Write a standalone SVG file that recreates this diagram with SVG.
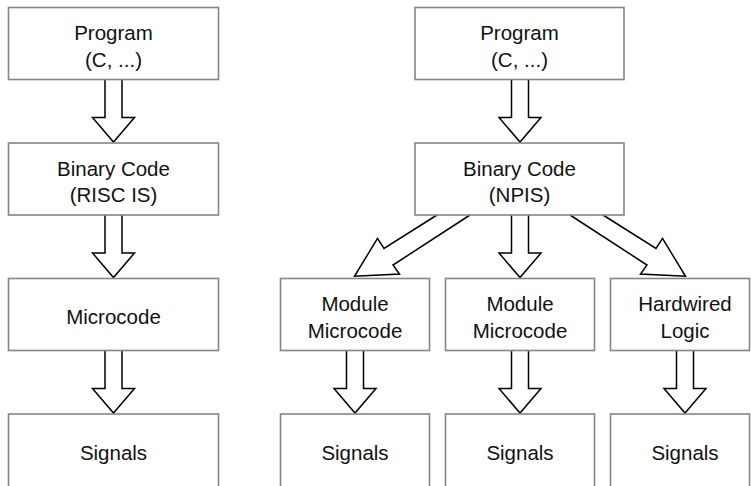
<svg xmlns="http://www.w3.org/2000/svg" width="751" height="486" viewBox="0 0 751 486">
  <style>
    .box { fill: #ffffff; stroke: #858585; stroke-width: 1.6; }
    .arrow { fill: #ffffff; stroke: #000000; stroke-width: 1.5; stroke-linejoin: miter; }
    .label { font-family: "Liberation Sans", Arial, sans-serif; font-size: 20.5px; fill: #111111; text-anchor: middle; }
  </style>
  <rect width="751" height="486" fill="#ffffff"/>

  <!-- connectors: hollow block arrows -->
  <g id="connectors">
    <!-- left column -->
    <path class="arrow" d="M105,79.5 V117.5 H92.5 L113.5,142 L134.5,117.5 H122 V79.5"/>
    <path class="arrow" d="M105,215 V253 H92.5 L113.5,277.5 L134.5,253 H122 V215"/>
    <path class="arrow" d="M105,350.5 V388.5 H92.5 L113.5,413 L134.5,388.5 H122 V350.5"/>
    <!-- right column: program to binary code -->
    <path class="arrow" d="M511.5,79.5 V117.5 H499 L520,142 L541,117.5 H528.5 V79.5"/>
    <!-- binary code fan-out -->
    <path class="arrow" d="M437,215 L384,248.5 L377.5,238.3 L354.5,276.3 L399.5,274 L393,265 L470,215"/>
    <path class="arrow" d="M511.5,215 V253 H499 L520,277.5 L541,253 H528.5 V215"/>
    <path class="arrow" d="M603,215 L656,248.5 L662.5,238.3 L685.5,276.3 L640.5,274 L647,265 L570,215"/>
    <!-- modules to signals -->
    <path class="arrow" d="M346.5,350.5 V388.5 H334 L355,413 L376,388.5 H363.5 V350.5"/>
    <path class="arrow" d="M511.5,350.5 V388.5 H499 L520,413 L541,388.5 H528.5 V350.5"/>
    <path class="arrow" d="M676.5,350.5 V388.5 H664 L685,413 L706,388.5 H693.5 V350.5"/>
  </g>

  <!-- RISC flow -->
  <g id="risc-program">
    <rect class="box" x="8.5" y="7.5" width="210" height="72"/>
    <text class="label" x="113.5" y="40">Program</text>
    <text class="label" x="113.5" y="66.5">(C, ...)</text>
  </g>
  <g id="risc-binary">
    <rect class="box" x="8.5" y="143" width="210" height="72"/>
    <text class="label" x="113.5" y="175.5">Binary Code</text>
    <text class="label" x="113.5" y="202">(RISC IS)</text>
  </g>
  <g id="risc-microcode">
    <rect class="box" x="8.5" y="278.5" width="210" height="72"/>
    <text class="label" x="113.5" y="324">Microcode</text>
  </g>
  <g id="risc-signals">
    <rect class="box" x="8.5" y="414" width="210" height="80"/>
    <text class="label" x="113.5" y="459.5">Signals</text>
  </g>

  <!-- NPIS flow -->
  <g id="npis-program">
    <rect class="box" x="415" y="7.5" width="209" height="72"/>
    <text class="label" x="519.5" y="40">Program</text>
    <text class="label" x="519.5" y="66.5">(C, ...)</text>
  </g>
  <g id="npis-binary">
    <rect class="box" x="415" y="143" width="209" height="72"/>
    <text class="label" x="519.5" y="175.5">Binary Code</text>
    <text class="label" x="519.5" y="202">(NPIS)</text>
  </g>
  <g id="module-microcode-1">
    <rect class="box" x="280.5" y="278.5" width="149" height="72"/>
    <text class="label" x="355" y="311">Module</text>
    <text class="label" x="355" y="337.5">Microcode</text>
  </g>
  <g id="module-microcode-2">
    <rect class="box" x="445.5" y="278.5" width="149" height="72"/>
    <text class="label" x="520" y="311">Module</text>
    <text class="label" x="520" y="337.5">Microcode</text>
  </g>
  <g id="hardwired-logic">
    <rect class="box" x="610.5" y="278.5" width="139" height="72"/>
    <text class="label" x="685" y="311">Hardwired</text>
    <text class="label" x="685" y="337.5">Logic</text>
  </g>
  <g id="signals-1">
    <rect class="box" x="280.5" y="414" width="149" height="80"/>
    <text class="label" x="355" y="459.5">Signals</text>
  </g>
  <g id="signals-2">
    <rect class="box" x="445.5" y="414" width="149" height="80"/>
    <text class="label" x="520" y="459.5">Signals</text>
  </g>
  <g id="signals-3">
    <rect class="box" x="610.5" y="414" width="139" height="80"/>
    <text class="label" x="685" y="459.5">Signals</text>
  </g>
</svg>
